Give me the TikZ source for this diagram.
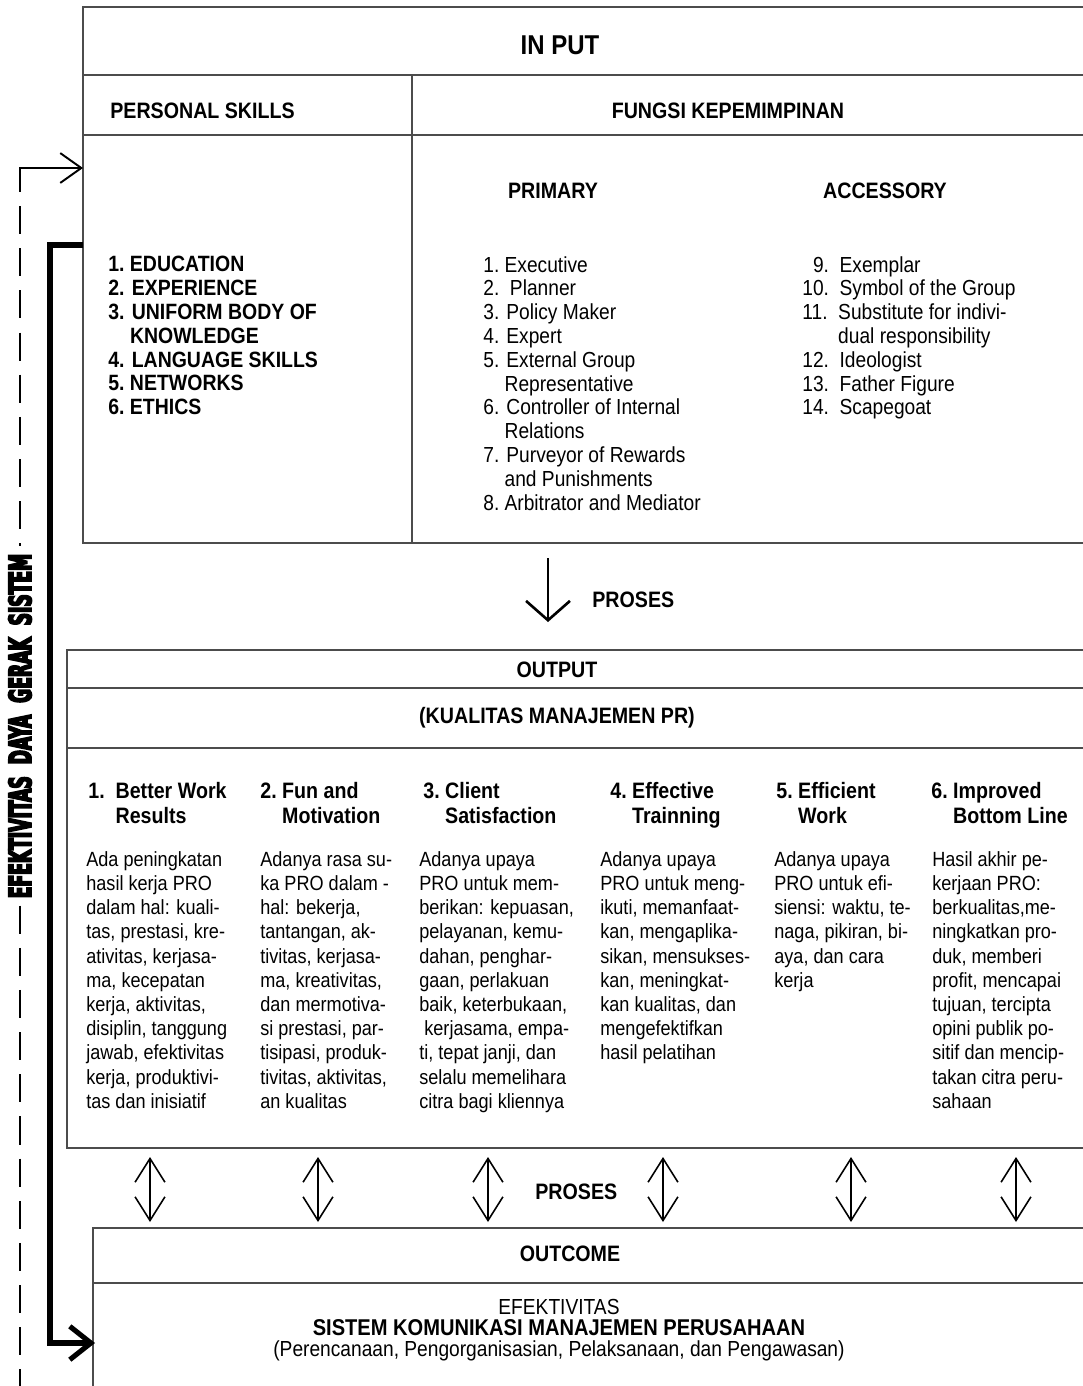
\documentclass[tikz,border=0pt]{standalone}
\usepackage{fontspec}
\setmainfont{Liberation Sans}[FakeStretch=0.88]
\newfontfamily\heavyfont{DejaVu Sans Condensed}[FakeStretch=0.62]
\usetikzlibrary{arrows.meta}

\tikzset{
  box/.style={draw=black!70, line width=0.7pt},
  hdr/.style={font=\fontsize{12.7}{13.6}\selectfont\bfseries, inner sep=0pt},
  big/.style={font=\fontsize{15.5}{18}\selectfont\bfseries, inner sep=0pt},
  lst/.style={font=\fontsize{12.4}{13.55}\selectfont, align=left, anchor=north west, inner sep=0pt},
  blst/.style={lst, font=\fontsize{12.6}{13.55}\selectfont\bfseries},
  body/.style={font=\fontsize{11.7}{13.78}\selectfont, align=left, anchor=north west, inner sep=0pt},
  colhead/.style={font=\fontsize{12.7}{14}\selectfont\bfseries, align=left, anchor=north west, inner sep=0pt},
  flow/.style={line width=1.5pt, -{Straight Barb[length=11pt,width=25pt]}},
  both/.style={line width=0.9pt, {Straight Barb[length=13.5pt,width=17pt]}-{Straight Barb[length=13.5pt,width=17pt]}},
  feedback/.style={line width=1.1pt, dash pattern=on 16pt off 8pt},
  thickline/.style={line width=2.9pt},
}

\begin{document}
\begin{tikzpicture}[x=0.02cm, y=-0.02cm]
    \useasboundingbox (0,0) rectangle (1082,1386);

    % input
    \draw[box] (83,7) rectangle (1095,543);
    \draw[box] (83,75) -- (1095,75);
    \draw[box] (83,135) -- (1095,135);
    \draw[box] (412,75) -- (412,543);

    \node[big] (input) at (560,45) {IN\ PUT};
    \node[hdr, anchor=west] (skills) at (110,111) {PERSONAL SKILLS};
    \node[hdr] (fungsi) at (728,111) {FUNGSI KEPEMIMPINAN};
    \node[hdr] (primary) at (553,191) {PRIMARY};
    \node[hdr] (accessory) at (885,191) {ACCESSORY};

    \node[blst] (skilllist) at (108,256) {1.\ EDUCATION\\2. EXPERIENCE\\3. UNIFORM BODY OF\\\phantom{3.}\ KNOWLEDGE\\4. LANGUAGE SKILLS\\5.\ NETWORKS\\6.\ ETHICS};
    \node[lst] (primarylist) at (483,256) {1.\ Executive\\2.\ \ Planner\\3. Policy Maker\\4. Expert\\5. External Group\\\phantom{5.}\ Representative\\6. Controller of Internal\\\phantom{6.}\ Relations\\7. Purveyor of Rewards\\\phantom{7.}\ and Punishments\\8.\ Arbitrator and Mediator};
    \node[lst] (accessorylist) at (802,256) {\phantom{1}9.\ \ Exemplar\\10.\ \ Symbol of the Group\\11.\ \ Substitute for indivi-\\\phantom{11.}\ \ dual responsibility\\12.\ \ Ideologist\\13.\ \ Father Figure\\14.\ \ Scapegoat};

    % proses
    \coordinate (procA) at (548,558);
    \coordinate (procB) at (548,622);
    \draw[flow] (procA) -- (procB);
    \node[hdr, anchor=west] (proses) at (592,600) {PROSES};

    % output
    \draw[box] (67,650) rectangle (1095,1148);
    \draw[box] (67,688) -- (1095,688);
    \draw[box] (67,748) -- (1095,748);
    \node[hdr] (output) at (557,670) {OUTPUT};
    \node[hdr] (kualitas) at (557,718) {(KUALITAS MANAJEMEN PR)};

    \foreach \x/\num/\ta/\tb [count=\i] in {88/{1.\ \ }/Better Work/Results, 260/{2.\ }/Fun and/Motivation, 423/{3.\ }/Client/Satisfaction, 610/{4.\ }/Effective/Trainning, 776/{5.\ }/Efficient/Work, 931/{6.\ }/Improved/Bottom Line}
        \node[colhead] (head\i) at (\x,782) {\num\ta\\\phantom{\num}\tb};

    \node[body] (body1) at (86,851) {Ada peningkatan\\hasil kerja PRO\\dalam hal: kuali-\\tas, prestasi, kre-\\ativitas, kerjasa-\\ma, kecepatan\\kerja, aktivitas,\\disiplin, tanggung\\jawab, efektivitas\\kerja, produktivi-\\tas dan inisiatif};
    \node[body] (body2) at (260,851) {Adanya rasa su-\\ka PRO dalam -\\hal: bekerja,\\tantangan, ak-\\tivitas, kerjasa-\\ma, kreativitas,\\dan mermotiva-\\si prestasi, par-\\tisipasi, produk-\\tivitas, aktivitas,\\an kualitas};
    \node[body] (body3) at (419,851) {Adanya upaya\\PRO untuk mem-\\berikan: kepuasan,\\pelayanan, kemu-\\dahan, penghar-\\gaan, perlakuan\\baik, keterbukaan,\\\ kerjasama, empa-\\ti, tepat janji, dan\\selalu memelihara\\citra bagi kliennya};
    \node[body] (body4) at (600,851) {Adanya upaya\\PRO untuk meng-\\ikuti, memanfaat-\\kan, mengaplika-\\sikan, mensukses-\\kan, meningkat-\\kan kualitas, dan\\mengefektifkan\\hasil pelatihan};
    \node[body] (body5) at (774,851) {Adanya upaya\\PRO untuk efi-\\siensi: waktu, te-\\naga, pikiran, bi-\\aya, dan cara\\kerja};
    \node[body] (body6) at (932,851) {Hasil akhir pe-\\kerjaan PRO:\\berkualitas,me-\\ningkatkan pro-\\duk, memberi\\profit, mencapai\\tujuan, tercipta\\opini publik po-\\sitif dan mencip-\\takan citra peru-\\sahaan};

    % proses to outcome
    \foreach \x [count=\i] in {150,318,488,663,851,1016} {
        \coordinate (up\i) at (\x,1157);
        \coordinate (dn\i) at (\x,1222);
        \draw[both] (up\i) -- (dn\i);
    }
    \node[hdr, anchor=west] (proses2) at (535,1192) {PROSES};

    % outcome
    \draw[box] (93,1228) rectangle (1095,1400);
    \draw[box] (93,1283) -- (1095,1283);
    \node[hdr] (outcome) at (570,1254) {OUTCOME};
    \node[font=\fontsize{12.4}{11.9}\selectfont, align=center, inner sep=0pt, anchor=north] (efek) at (559,1299) {EFEKTIVITAS\\{\fontsize{13}{11.9}\selectfont\bfseries SISTEM KOMUNIKASI MANAJEMEN PERUSAHAAN}\\(Perencanaan, Pengorganisasian, Pelaksanaan, dan Pengawasan)};

    % feedback loop
    \node[rotate=90, inner sep=0pt, inner xsep=4pt, font=\heavyfont\bfseries\fontsize{17.5}{19}\selectfont] (gerak) at (20,726) {\special{pdf:code 2 Tr 0.9 w}EFEKTIVITAS\ \ DAYA\ \ GERAK\ \ SISTEM};
    \coordinate (fbin) at (83,168);
    \coordinate (fbcorner) at (20,168);
    \coordinate (fbstart) at (20,206);
    \coordinate (fbend) at (20,1400);
    \draw[line width=1.1pt, {Straight Barb[length=12pt,width=17pt]}-] (fbin) -- (fbcorner) -- ++(0,24);
    \draw[feedback] (fbstart) -- (gerak.east);
    \draw[feedback] (gerak.west) -- (fbend);

    \coordinate (skillout) at (83,245);
    \coordinate (outcomein) at (95,1343);
    \draw[thickline, -{Straight Barb[length=12pt,width=19pt]}] (skillout) -- ++(-33,0) |- (outcomein);
\end{tikzpicture}
\end{document}
